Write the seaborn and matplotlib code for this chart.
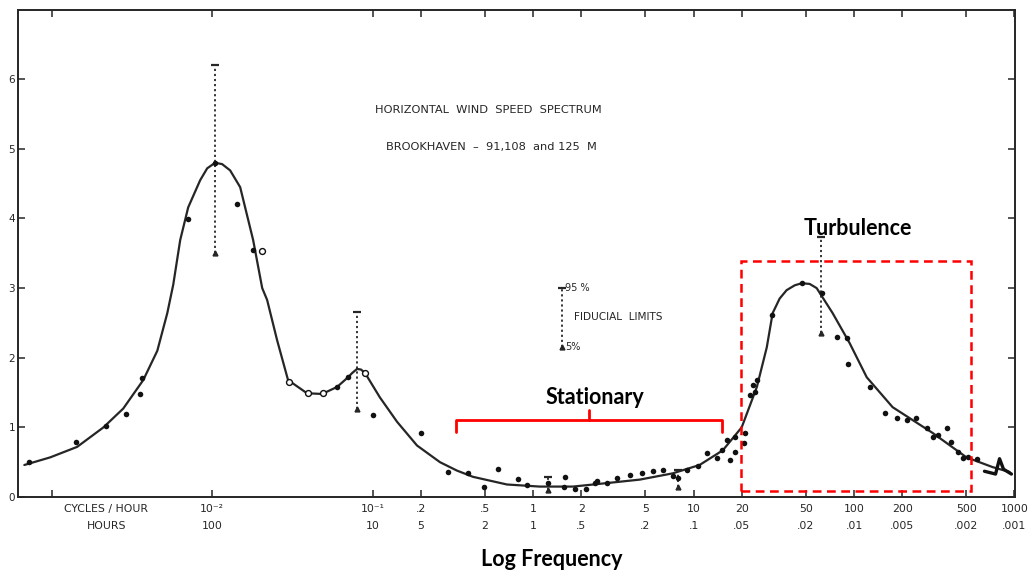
import matplotlib
matplotlib.use("Agg")
import matplotlib.pyplot as plt
from matplotlib.patches import Rectangle
from matplotlib.ticker import FixedLocator, NullLocator, NullFormatter
import seaborn as sns

# ---- smoothed spectrum curve (frequency in cycles/hour, spectral value) ----
curve_freq = [6.75e-4, 9.80e-4, 1.44e-3, 2.10e-3, 2.79e-3, 3.72e-3, 4.55e-3, 5.25e-3,
              5.72e-3, 6.32e-3, 7.09e-3, 8.42e-3, 9.31e-3, 1.044e-2, 1.154e-2,
              1.294e-2, 1.494e-2, 1.80e-2, 2.05e-2, 2.20e-2, 2.54e-2, 2.97e-2,
              3.90e-2, 4.84e-2, 6.00e-2, 7.03e-2, 7.45e-2, 8.00e-2, 8.47e-2, 8.97e-2,
              0.111, 0.142, 0.189, 0.263, 0.335, 0.422, 0.687, 1.10, 1.77, 2.88, 4.62,
              7.42, 10.9, 15.2, 19.95, 24.8, 28.6, 31.1, 34.4, 38.0, 42.7, 47.2, 52.9,
              58.5, 73.6, 93.9, 120, 174, 309, 502, 730, 931]
curve_val = [0.46, 0.57, 0.72, 1.00, 1.27, 1.68, 2.10, 2.64, 3.05, 3.69, 4.16, 4.55,
             4.72, 4.80, 4.78, 4.69, 4.45, 3.69, 3.00, 2.83, 2.25, 1.68, 1.49, 1.48,
             1.58, 1.72, 1.78, 1.84, 1.83, 1.78, 1.43, 1.08, 0.74, 0.50, 0.38, 0.29,
             0.18, 0.15, 0.15, 0.20, 0.25, 0.34, 0.46, 0.67, 1.00, 1.58, 2.15, 2.64,
             2.85, 2.97, 3.04, 3.07, 3.06, 3.00, 2.64, 2.21, 1.72, 1.29, 0.92, 0.57,
             0.43, 0.36]

# ---- observed spectral estimates (filled dots) ----
dot_freq = [7.26e-4, 1.42e-3, 2.19e-3, 2.92e-3, 3.56e-3, 3.67e-3, 7.10e-3, 1.04e-2,
            1.43e-2, 1.80e-2, 6.00e-2, 7.03e-2, 0.100, 0.200, 0.294, 0.393, 0.494,
            0.604, 0.804, 0.914, 1.24, 1.56, 1.58, 1.82, 2.13, 2.43, 2.50, 2.88, 3.33,
            4.01, 4.76, 5.57, 6.43, 7.42, 7.97, 9.08, 10.6, 12.1, 13.9, 15.0, 16.1,
            16.8, 18.1, 18.1, 20.6, 20.9, 22.4, 23.4, 24.1, 24.8, 30.7, 47.2, 62.8,
            77.9, 89.9, 91.2, 125, 155, 184, 213, 245, 283, 309, 332, 378, 405, 442,
            475, 510, 580]
dot_val = [0.50, 0.79, 1.02, 1.19, 1.48, 1.71, 3.99, 4.80, 4.21, 3.54, 1.58, 1.72,
           1.18, 0.92, 0.36, 0.34, 0.15, 0.40, 0.26, 0.17, 0.20, 0.15, 0.29, 0.12,
           0.12, 0.20, 0.23, 0.20, 0.27, 0.32, 0.35, 0.38, 0.39, 0.30, 0.27, 0.39,
           0.44, 0.63, 0.56, 0.67, 0.82, 0.53, 0.86, 0.65, 0.77, 0.92, 1.46, 1.61,
           1.51, 1.68, 2.61, 3.07, 2.93, 2.30, 2.28, 1.91, 1.58, 1.20, 1.13, 1.10,
           1.13, 0.99, 0.86, 0.89, 0.99, 0.79, 0.65, 0.56, 0.57, 0.55]

# ---- open-circle estimates ----
open_freq = [2.05e-2, 3.01e-2, 3.96e-2, 4.91e-2, 8.97e-2]
open_val = [3.53, 1.65, 1.49, 1.49, 1.78]

# ---- highest-frequency trace ----
tail_freq = [650, 762, 807, 854, 957]
tail_val = [0.37, 0.33, 0.55, 0.40, 0.33]

# ---- 5% / 95% fiducial limits ----
eb_freq = [0.0104, 0.080, 62.0, 1.24, 7.97]
eb_low = [3.50, 1.26, 2.35, 0.10, 0.14]
eb_high = [6.20, 2.65, 3.73, 0.29, 0.39]
key_freq, key_low, key_high = 1.51, 2.15, 3.00

# ---- axis ticks ----
tick_freq = [1e-2, 0.1, 0.2, 0.5, 1, 2, 5, 10, 20, 50, 100, 200, 500, 1000]
tick_cph = ["10⁻²", "10⁻¹", ".2", ".5", "1", "2", "5", "10", "20", "50", "100",
            "200", "500", "1000"]
tick_hours = ["100", "10", "5", "2", "1", ".5", ".2", ".1", ".05", ".02", ".01",
              ".005", ".002", ".001"]
y_ticks = [0, 1, 2, 3, 4, 5, 6]

sns.set_style("white")
plt.rcParams['font.family'] = ['DejaVu Sans']

fig = plt.figure(figsize=(10.30, 5.74), dpi=100)
ax = fig.add_axes([0.0175, 0.1341, 0.9679, 0.8493])
ax.set_xscale('log')

ink = '#262626'
sns.lineplot(x=curve_freq, y=curve_val, ax=ax, color=ink, linewidth=1.6,
             sort=False, estimator=None)
sns.lineplot(x=tail_freq, y=tail_val, ax=ax, color='#111111', linewidth=2.4,
             sort=False, estimator=None)
sns.scatterplot(x=dot_freq, y=dot_val, ax=ax, s=16, color='#111111',
                edgecolor='#111111', linewidth=0, zorder=4)
sns.scatterplot(x=open_freq, y=open_val, ax=ax, s=18, facecolor='white',
                edgecolor='#111111', linewidth=1.0, zorder=5)

# dotted confidence bars with T caps and triangle feet
for f, lo, hi in zip(eb_freq + [key_freq], eb_low + [key_low], eb_high + [key_high]):
    ax.plot([f, f], [lo, hi], color=ink, linestyle=(0, (1.2, 1.6)), linewidth=1.3)
    ax.plot([f], [hi], marker='_', markersize=6, mew=1.6, color=ink)
    ax.plot([f], [lo], marker='^', markersize=3.5, color=ink)

ax.text(1.58, 3.0, "95 %", fontsize=7, va='center', ha='left', color=ink)
ax.text(1.80, 2.58, "FIDUCIAL  LIMITS", fontsize=7.6, va='center', ha='left', color=ink)
ax.text(1.58, 2.15, "5%", fontsize=7, va='center', ha='left', color=ink)

ax.text(0.472, 0.794, "HORIZONTAL  WIND  SPEED  SPECTRUM", transform=ax.transAxes,
        fontsize=8.2, ha='center', va='center', color=ink)
ax.text(0.475, 0.718, "BROOKHAVEN  –  91,108  and 125  M", transform=ax.transAxes,
        fontsize=8.2, ha='center', va='center', color=ink)

# axis limits and frame
ax.set_xlim(10 ** -3.21, 10 ** 3.003)
ax.set_ylim(0, 7)
for sp in ax.spines.values():
    sp.set_color(ink)
    sp.set_linewidth(1.4)

ax.xaxis.set_major_locator(FixedLocator([1e-3] + tick_freq))
ax.xaxis.set_minor_locator(NullLocator())
ax.xaxis.set_major_formatter(NullFormatter())
ax.xaxis.set_minor_formatter(NullFormatter())
ax.set_yticks(y_ticks)
ax.set_yticklabels([str(v) for v in y_ticks])
ax.tick_params(axis='both', direction='in', length=5, width=1.1, color=ink,
               top=True, right=True, bottom=True, left=True, labelsize=7.5,
               labelcolor=ink)
ax.tick_params(axis='y', pad=2)

xt = ax.get_xaxis_transform()
for f, a, b in zip(tick_freq, tick_cph, tick_hours):
    ax.text(f, -0.024, a, transform=xt, ha='center', va='center', fontsize=7.8,
            color=ink, clip_on=False)
    ax.text(f, -0.060, b, transform=xt, ha='center', va='center', fontsize=7.8,
            color=ink, clip_on=False)
ax.text(10 ** -2.66, -0.024, "CYCLES / HOUR", transform=xt, ha='center',
        va='center', fontsize=7.8, color=ink)
ax.text(10 ** -2.66, -0.060, "HOURS", transform=xt, ha='center', va='center',
        fontsize=7.8, color=ink)

# regime annotations
red = '#ff0000'
ax.add_patch(Rectangle((19.7, 0.086), 532 - 19.7, 3.39 - 0.086, fill=False,
                       edgecolor=red, linewidth=1.8, linestyle=(0, (3.5, 2.2)),
                       zorder=6))
ax.plot([0.330, 0.330, 15.0, 15.0], [0.93, 1.10, 1.10, 0.93], color=red,
        linewidth=2.0, solid_joinstyle='round')
ax.plot([2.22, 2.22], [1.10, 1.25], color=red, linewidth=2.0)
ax.text(2.43, 1.43, "Stationary", fontsize=15.5, fontweight='bold',
        family='Lato', ha='center', va='center', color='black')
ax.text(105, 3.86, "Turbulence", fontsize=15.5, fontweight='bold',
        family='Lato', ha='center', va='center', color='black')

fig.text(0.536, 0.0244, "Log Frequency", fontsize=15.5, fontweight='bold',
         family='Lato', ha='center', va='center', color='black')

fig.savefig("out.png", dpi=100, facecolor='white')
